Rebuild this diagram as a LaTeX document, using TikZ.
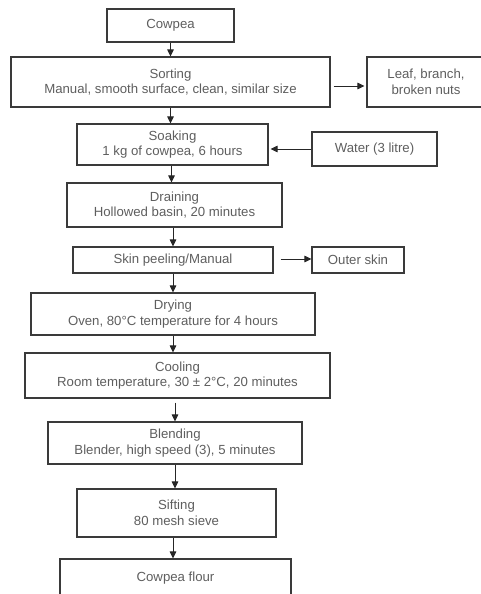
\documentclass[tikz,border=0pt]{standalone}
\usepackage{fontspec}
\setmainfont{Liberation Sans}
\usetikzlibrary{arrows.meta}
\definecolor{txt}{HTML}{5E5E5E}
\definecolor{edge}{HTML}{3A3A3A}
\tikzset{
  box/.style={draw=edge, line width=1.1pt, rectangle, inner sep=0pt, align=center,
    text=txt, font=\fontsize{13.2}{15.5}\selectfont},
  arr/.style={draw=black!85, line width=1pt, -{Triangle[length=7pt,width=6.5pt]}}
}
\begin{document}
\begin{tikzpicture}[x=1pt,y=-1pt]
\useasboundingbox (0,0) rectangle (481,594);
\node[box, minimum width=127pt, minimum height=33pt] (cowpea) at (170.5,25.5) {Cowpea};
\node[box, minimum width=319pt, minimum height=50pt] (sort) at (170.5,82) {Sorting\\Manual, smooth surface, clean, similar size};
\node[box, minimum width=118pt, minimum height=50pt] (leaf) at (426,82) {Leaf, branch,\\broken nuts};
\node[box, minimum width=191pt, minimum height=41pt] (soak) at (172.5,144.5) {Soaking\\1 kg of cowpea, 6 hours};
\node[box, minimum width=125pt, minimum height=34pt] (water) at (374.5,149) {Water (3 litre)};
\node[box, minimum width=215pt, minimum height=44pt] (drain) at (174.5,205) {Draining\\Hollowed basin, 20 minutes};
\node[box, minimum width=200pt, minimum height=26pt] (skin) at (173,260) {Skin peeling/Manual};
\node[box, minimum width=92pt, minimum height=26pt] (outer) at (358,260) {Outer skin};
\node[box, minimum width=284pt, minimum height=42pt] (dry) at (173,314) {Drying\\Oven, 80°C temperature for 4 hours};
\node[box, minimum width=305pt, minimum height=45pt] (cool) at (177.5,375.5) {Cooling\\Room temperature, 30 ± 2°C, 20 minutes};
\node[box, minimum width=254pt, minimum height=42pt] (blend) at (175,443) {Blending\\Blender, high speed (3), 5 minutes};
\node[box, minimum width=199pt, minimum height=48pt] (sift) at (176.5,513) {Sifting\\80 mesh sieve};
\node[box, minimum width=231pt, minimum height=38pt, text depth=0pt] (flour) at (175.5,578) {\raisebox{3pt}{Cowpea flour}};
% vertical arrows
\draw[arr] (cowpea.south) -- (cowpea.south |- sort.north);
\draw[arr] (sort.south) -- (sort.south |- soak.north);
\draw[arr] ([xshift=-1pt]soak.south) -- ([xshift=-1pt]soak.south |- drain.north);
\draw[arr] ([xshift=-1.5pt]drain.south) -- ([xshift=-1.5pt]drain.south |- skin.north);
\draw[arr] (skin.south) -- (skin.south |- dry.north);
\draw[arr] (dry.south) -- (dry.south |- cool.north);
\draw[arr, shorten <=4pt] ([xshift=-2.5pt]cool.south) -- ([xshift=-2.5pt]cool.south |- blend.north);
\draw[arr] (blend.south) -- (blend.south |- sift.north);
\draw[arr] ([xshift=-3.5pt]sift.south) -- ([xshift=-3.5pt]sift.south |- flour.north);
% horizontal arrows
\draw[arr, shorten <=3pt, shorten >=2pt] ([yshift=-4pt]sort.east) -- ([yshift=-4pt]sort.east -| leaf.west);
\draw[arr, shorten >=2pt] (water.west) -- (water.west -| soak.east);
\draw[arr, shorten <=7pt] ([yshift=1pt]skin.east) -- ([yshift=1pt]skin.east -| outer.west);
\end{tikzpicture}
\end{document}
